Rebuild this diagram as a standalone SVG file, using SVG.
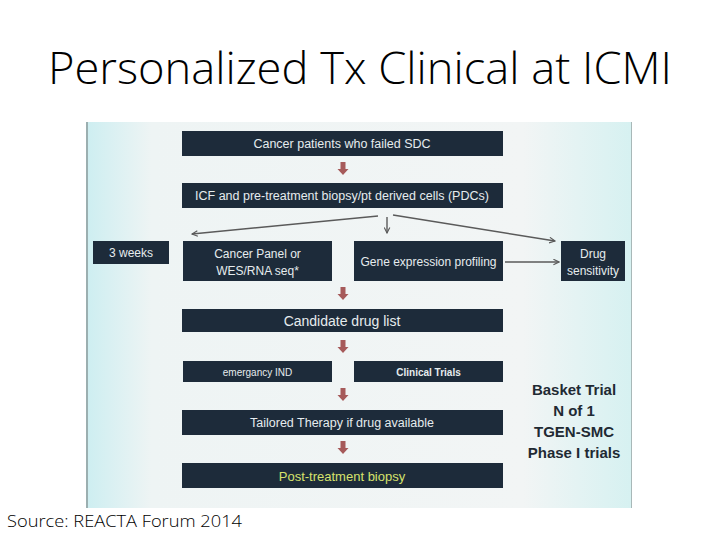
<svg xmlns="http://www.w3.org/2000/svg" width="720" height="540" viewBox="0 0 720 540">
<defs>
<linearGradient id="bg" x1="0" y1="0" x2="1" y2="0">
<stop offset="0" stop-color="#cdeef1"/>
<stop offset="0.12" stop-color="#eef4f4"/>
<stop offset="0.8" stop-color="#f2f5f5"/>
<stop offset="1" stop-color="#d6f1f1"/>
</linearGradient>
<marker id="ah" viewBox="0 0 10 10" refX="9" refY="5" markerWidth="7" markerHeight="7" orient="auto" markerUnits="userSpaceOnUse">
<path d="M1,1 L9,5 L1,9" fill="none" stroke="#5a5a5a" stroke-width="1.6"/>
</marker>
<path id="ra" d="M-2.5,0 H2.5 V7 H5.5 L0,13 L-5.5,7 H-2.5 Z"/>
<style>
.box{fill:#1d2b3a}
.t{font-family:"Liberation Sans",Arial,sans-serif;fill:#e6ecee;text-anchor:middle;dominant-baseline:central}
.b{font-weight:bold}
.conn{stroke:#5a5a5a;stroke-width:1.4;fill:none}
.red{fill:#a65a5a}
.side{font-family:"Liberation Sans",Arial,sans-serif;font-weight:bold;font-size:15px;fill:#1f2a33;text-anchor:middle}
.light{font-family:"Open Sans","Noto Sans",sans-serif;font-weight:300;fill:#000}
</style>
</defs>
<rect width="720" height="540" fill="#ffffff"/>
<text class="light" x="360" y="84" font-size="44" text-anchor="middle" textLength="624" lengthAdjust="spacingAndGlyphs">Personalized Tx Clinical at ICMI</text>
<rect x="86" y="122" width="546" height="386" fill="url(#bg)"/>
<line x1="87" y1="122" x2="87" y2="508" stroke="#8a9a9a" stroke-width="1.5"/>
<line x1="631.5" y1="122" x2="631.5" y2="508" stroke="#a8b8b8" stroke-width="1"/>

<g id="connectors">
<path class="conn" d="M378,216 L192,234" marker-end="url(#ah)"/>
<path class="conn" d="M387,217 L387,233" marker-end="url(#ah)"/>
<path class="conn" d="M393,215 L555,241" marker-end="url(#ah)"/>
<path class="conn" d="M505,262 L559,262" marker-end="url(#ah)"/>
<use href="#ra" class="red" x="343" y="162"/>
<use href="#ra" class="red" x="343" y="287"/>
<use href="#ra" class="red" x="343" y="340"/>
<use href="#ra" class="red" x="343" y="388"/>
<use href="#ra" class="red" x="343" y="441"/>
</g>

<g id="n-cancer-patients">
<rect class="box" x="182" y="131" width="321" height="25"/>
<text class="t" x="342" y="144" font-size="12.5">Cancer patients who failed SDC</text>
</g>
<g id="n-icf">
<rect class="box" x="182" y="183" width="321" height="25"/>
<text class="t" x="342" y="196" font-size="12.5">ICF and pre-treatment biopsy/pt derived cells (PDCs)</text>
</g>
<g id="n-3weeks">
<rect class="box" x="93" y="241" width="76" height="23"/>
<text class="t" x="131" y="253" font-size="12">3 weeks</text>
</g>
<g id="n-cancer-panel">
<rect class="box" x="183" y="241" width="149" height="40"/>
<text class="t" x="257.5" y="254" font-size="12">Cancer Panel or</text>
<text class="t" x="257.5" y="271" font-size="12">WES/RNA seq*</text>
</g>
<g id="n-gene-expression">
<rect class="box" x="354" y="241" width="149" height="40"/>
<text class="t" x="428.5" y="262" font-size="12">Gene expression profiling</text>
</g>
<g id="n-drug-sensitivity">
<rect class="box" x="561" y="241" width="64" height="40"/>
<text class="t" x="593" y="254" font-size="12">Drug</text>
<text class="t" x="593" y="271" font-size="12">sensitivity</text>
</g>
<g id="n-candidate">
<rect class="box" x="182" y="309" width="321" height="23"/>
<text class="t" x="342" y="321" font-size="14">Candidate drug list</text>
</g>
<g id="n-emergancy">
<rect class="box" x="183" y="361" width="149" height="21"/>
<text class="t" x="257.5" y="372" font-size="10">emergancy IND</text>
</g>
<g id="n-clinical-trials">
<rect class="box" x="354" y="361" width="149" height="21"/>
<text class="t b" x="428.5" y="372" font-size="10">Clinical Trials</text>
</g>
<g id="n-tailored">
<rect class="box" x="182" y="410" width="321" height="25"/>
<text class="t" x="342" y="423" font-size="12.5">Tailored Therapy if drug available</text>
</g>
<g id="n-post">
<rect class="box" x="182" y="463" width="321" height="25"/>
<text class="t" x="342" y="476" font-size="13" style="fill:#d6e26c">Post-treatment biopsy</text>
</g>
<g id="side-note">
<text class="side" x="574" y="395">Basket Trial</text>
<text class="side" x="574" y="416">N of 1</text>
<text class="side" x="574" y="437">TGEN-SMC</text>
<text class="side" x="574" y="458">Phase I trials</text>
</g>
<text class="light" x="7" y="527" font-size="17" textLength="235" lengthAdjust="spacingAndGlyphs">Source: REACTA Forum 2014</text>
</svg>
